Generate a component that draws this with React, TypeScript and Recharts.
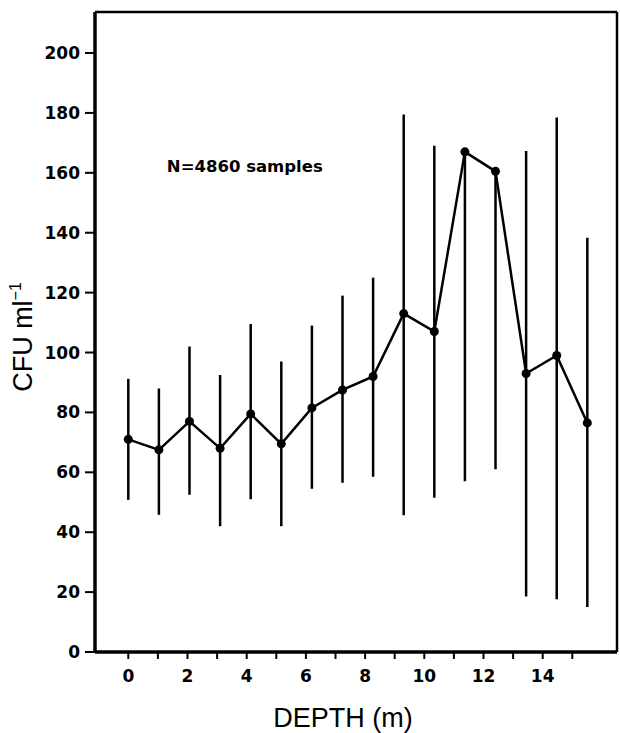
import React from 'react';
import {
  ComposedChart,
  Line,
  XAxis,
  YAxis,
  ErrorBar,
  ReferenceDot,
  ReferenceLine,
} from 'recharts';

// ---- data ----
const depth = [0, 1, 2, 3, 4, 5, 6, 7, 8, 9, 10, 11, 12, 13, 14, 15];
const cfuMean = [71, 67.5, 77, 68, 79.5, 69.5, 81.5, 87.5, 92, 113, 107, 167, 160.5, 93, 99, 76.5];
const cfuLow = [50.8, 45.8, 52.5, 42, 51, 42, 54.5, 56.5, 58.5, 45.7, 51.5, 57, 61, 18.5, 17.6, 15];
const cfuHigh = [91.2, 88, 102, 92.5, 109.5, 97, 109, 119, 125, 179.5, 169, 167, 160.5, 167.3, 178.5, 138.3];
const xTicks = [0, 1, 2, 3, 4, 5, 6, 7, 8, 9, 10, 11, 12, 13, 14, 15];
const yTicks = [0, 20, 40, 60, 80, 100, 120, 140, 160, 180, 200];
const annotation = 'N=4860 samples';
const xTitle = 'DEPTH (m)';
const yTitle = 'CFU ml';
const yTitleSup = '−1';

const yMax = 213.7;
const ptsDomain = [-1.088, 15.97];
const tickDomain = [-1.125, 16.51];

const table = depth.map((d, i) => ({
  depth: d,
  mean: cfuMean[i],
  err: [cfuMean[i] - cfuLow[i], cfuHigh[i] - cfuMean[i]],
}));

const tickFont = { fontFamily: 'DejaVu Sans', fontWeight: 700, fontSize: 17, fill: '#000' };

const XLabel = (props: any) => {
  const vb = props.viewBox;
  const cx = vb.x + vb.width / 2 - 13;
  return (
    <text x={cx} y={vb.y + 75} textAnchor="middle" fontFamily="Liberation Sans" fontSize={27} fill="#000">
      {xTitle}
    </text>
  );
};

const YLabel = (props: any) => {
  const vb = props.viewBox;
  const cy = vb.y + vb.height / 2 + 5;
  const x = vb.x + 32;
  return (
    <text
      x={x}
      y={cy}
      textAnchor="middle"
      transform={`rotate(-90, ${x}, ${cy})`}
      fontFamily="Liberation Sans"
      fontSize={27}
      fill="#000"
    >
      {yTitle}
      <tspan fontSize={16} dy={-11}>{yTitleSup}</tspan>
    </text>
  );
};

export default function App() {
  return (
    <div style={{ position: 'absolute', left: 0, top: 0, background: '#fff' }}>
      <ComposedChart
        width={620}
        height={733}
        data={table}
        margin={{ top: 12, right: 3, left: 0, bottom: 0 }}
      >
        <XAxis
          xAxisId="pts"
          orientation="top"
          type="number"
          dataKey="depth"
          domain={ptsDomain}
          allowDataOverflow
          hide
        />
        <XAxis
          xAxisId="ticks"
          type="number"
          dataKey="depth"
          domain={tickDomain}
          allowDataOverflow
          ticks={xTicks}
          interval={0}
          tickFormatter={(v: number) => (v % 2 === 0 ? String(v) : '')}
          height={81}
          tickSize={7}
          tickMargin={11}
          tick={tickFont}
          tickLine={{ stroke: '#000', strokeWidth: 2 }}
          axisLine={{ stroke: '#000', strokeWidth: 3.5 }}
          label={<XLabel />}
        />
        <YAxis
          yAxisId="l"
          type="number"
          domain={[0, yMax]}
          allowDataOverflow
          ticks={yTicks}
          interval={0}
          width={95}
          tickSize={10}
          tickMargin={5}
          tick={tickFont}
          tickLine={{ stroke: '#000', strokeWidth: 2 }}
          axisLine={{ stroke: '#000', strokeWidth: 3.5 }}
          label={<YLabel />}
        />
        <ReferenceLine xAxisId="pts" yAxisId="l" y={yMax} stroke="#000" strokeWidth={2.5} ifOverflow="visible" />
        <ReferenceLine xAxisId="pts" yAxisId="l" x={ptsDomain[1]} stroke="#000" strokeWidth={2.5} ifOverflow="visible" />
        <Line
          xAxisId="pts"
          yAxisId="l"
          dataKey="mean"
          stroke="#000"
          strokeWidth={2.5}
          dot={{ r: 4.5, fill: '#000', stroke: '#000', strokeWidth: 0 }}
          activeDot={false}
          isAnimationActive={false}
        >
          <ErrorBar dataKey="err" direction="y" width={0} stroke="#000" strokeWidth={2.5} isAnimationActive={false} />
        </Line>
        <ReferenceDot
          xAxisId="pts"
          yAxisId="l"
          x={1.26}
          y={162.3}
          r={0}
          fill="none"
          stroke="none"
          label={{
            value: annotation,
            position: 'right',
            offset: 0,
            fontFamily: 'DejaVu Sans',
            fontWeight: 700,
            fontSize: 16.5,
            fill: '#000',
          }}
        />
      </ComposedChart>
    </div>
  );
}
